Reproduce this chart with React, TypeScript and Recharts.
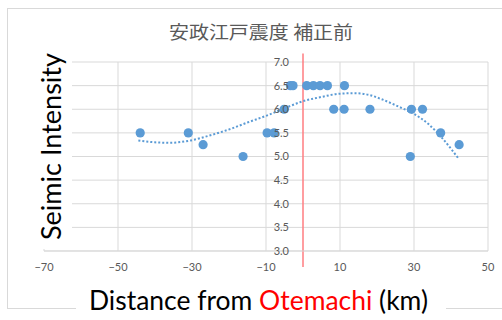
import React from 'react';
import {
  ComposedChart,
  Scatter,
  Line,
  XAxis,
  YAxis,
  CartesianGrid,
  ReferenceLine,
  ReferenceDot,
} from 'recharts';

// Observed seismic intensities by distance from Otemachi (km)
const distanceKm = [-44, -31, -27, -16.2, -9.7, -7.8, -5.1, -3.4, -2.7, 1.0, 2.8, 4.6, 6.6, 8.3, 11.1, 11.2, 18.1, 29.3, 32.3, 29.0, 37.2, 42.2];
const intensity = [5.5, 5.5, 5.25, 5.0, 5.5, 5.5, 6.0, 6.5, 6.5, 6.5, 6.5, 6.5, 6.5, 6.0, 6.0, 6.5, 6.0, 6.0, 6.0, 5.0, 5.5, 5.25];

// Polynomial trend curve through the observations
const trendKm = [-44.5, -40, -36, -31, -25, -19, -15, -10, -5, 0, 5, 10, 14, 18, 21, 26, 30, 34, 37.5, 42];
const trendIntensity = [5.34, 5.3, 5.29, 5.33, 5.45, 5.6, 5.72, 5.86, 6.02, 6.17, 6.26, 6.33, 6.34, 6.3, 6.22, 6.05, 5.9, 5.68, 5.4, 4.96];

// Axis ticks
const xTicks = [-70, -50, -30, -10, 10, 30, 50];
const yTicks = [3.0, 3.5, 4.0, 4.5, 5.0, 5.5, 6.0, 6.5, 7.0];

// Marker line at Otemachi (x = 0), running slightly past the plot edges
const markerRange = [2.66, 7.18];

const points = distanceKm.map((x, i) => ({ x, y: intensity[i] }));
const trend = trendKm.map((x, i) => ({ x, t: trendIntensity[i] }));

const BLUE = '#5B9BD5';
const GRID = '#D9D9D9';
const TICK = '#595959';

export default function App() {
  return (
    <div style={{ position: 'absolute', left: 0, top: 0, width: 502, height: 320, background: '#fff', overflow: 'hidden' }}>
      <div
        style={{
          position: 'absolute',
          left: 7,
          top: 8,
          width: 520,
          height: 301,
          border: '1px solid #D9D9D9',
          boxSizing: 'border-box',
        }}
      />
      <div style={{ position: 'absolute', left: 0, top: 0 }}>
        <ComposedChart
          width={502}
          height={320}
          margin={{ top: 62, right: 14, left: 44, bottom: 49 }}
        >
          <CartesianGrid stroke={GRID} strokeWidth={1} />
          <XAxis
            type="number"
            dataKey="x"
            domain={[-70, 50]}
            ticks={xTicks}
            tickLine={false}
            axisLine={{ stroke: GRID }}
            tick={{ fill: TICK, fontSize: 11, fontFamily: 'Lato' }}
            tickFormatter={(v: number) => (v < 0 ? '\u2212' + Math.abs(v) : String(v))}
            tickMargin={6}
            height={20}
            allowDataOverflow
          />
          <YAxis type="number" dataKey="y" domain={[3, 7]} ticks={yTicks} hide />
          {yTicks.map((v) => (
            <ReferenceDot
              key={v}
              x={0}
              y={v}
              r={0}
              stroke="none"
              fill="none"
              label={{
                value: v.toFixed(1),
                position: 'left',
                offset: 14,
                fill: TICK,
                fontSize: 11,
                fontFamily: 'Lato',
              }}
            />
          ))}
          <ReferenceLine
            segment={[
              { x: 0, y: markerRange[0] },
              { x: 0, y: markerRange[1] },
            ]}
            stroke="#FF7C80"
            strokeWidth={1.5}
            ifOverflow="visible"
          />
          <Line
            data={trend}
            dataKey="t"
            type="monotone"
            stroke={BLUE}
            strokeWidth={2}
            strokeDasharray="2 2"
            dot={false}
            activeDot={false}
            isAnimationActive={false}
          />
          <Scatter data={points} dataKey="y" fill={BLUE} isAnimationActive={false} shape={(p: any) => <circle cx={p.cx} cy={p.cy} r={4.6} fill={BLUE} />} />
        </ComposedChart>
      </div>
      <svg width={502} height={320} style={{ position: 'absolute', left: 0, top: 0, pointerEvents: 'none' }}>
        <text
          x={261}
          y={39}
          textAnchor="middle"
          fill={TICK}
          fontSize={18}
          fontFamily="'Noto Sans CJK JP'"
          textLength={184}
          lengthAdjust="spacingAndGlyphs"
        >
          安政江戸震度 補正前
        </text>
        <rect x={36} y={44} width={36} height={205} fill="#fff" />
        <text
          transform="translate(61 146.5) rotate(-90)"
          textAnchor="middle"
          fill="#000"
          fontSize={26}
          fontFamily="Lato"
          textLength={187}
          lengthAdjust="spacingAndGlyphs"
        >
          Seimic Intensity
        </text>
        <rect x={76} y={280} width={370} height={40} fill="#fff" />
        <text
          x={258.5}
          y={310}
          textAnchor="middle"
          fill="#000"
          fontSize={26}
          fontFamily="Lato"
          textLength={339}
          lengthAdjust="spacingAndGlyphs"
        >
          Distance from <tspan fill="#FF0000">Otemachi</tspan> (km)
        </text>
      </svg>
    </div>
  );
}
